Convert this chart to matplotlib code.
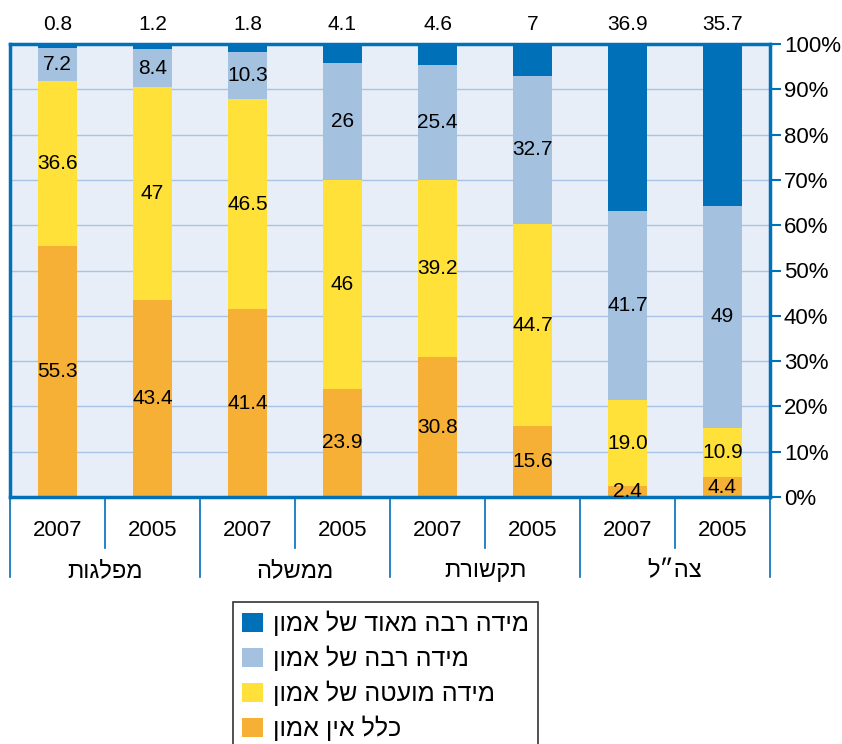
import numpy as np
import matplotlib.pyplot as plt
from matplotlib.transforms import blended_transform_factory

plt.rcParams['font.family'] = ['Liberation Sans', 'DejaVu Sans']


def heb(s):
    # matplotlib has no bidi support, so give it the visual order
    return s[::-1]


groups = ['מפלגות', 'ממשלה', 'תקשורת', 'צה״ל']
years = ['2007', '2005'] * 4

series_names = ['כלל אין אמון', 'מידה מועטה של אמון', 'מידה רבה של אמון', 'מידה רבה מאוד של אמון']
none_vals = [55.3, 43.4, 41.4, 23.9, 30.8, 15.6, 2.4, 4.4]
little_vals = [36.6, 47, 46.5, 46, 39.2, 44.7, 19.0, 10.9]
much_vals = [7.2, 8.4, 10.3, 26, 25.4, 32.7, 41.7, 49]
verymuch_vals = [0.8, 1.2, 1.8, 4.1, 4.6, 7, 36.9, 35.7]

none_txt = ['55.3', '43.4', '41.4', '23.9', '30.8', '15.6', '2.4', '4.4']
little_txt = ['36.6', '47', '46.5', '46', '39.2', '44.7', '19.0', '10.9']
much_txt = ['7.2', '8.4', '10.3', '26', '25.4', '32.7', '41.7', '49']
verymuch_txt = ['0.8', '1.2', '1.8', '4.1', '4.6', '7', '36.9', '35.7']

colors = ['#f6b036', '#ffe13a', '#a4c2e0', '#0070b8']
edge = '#0070b8'

fig = plt.figure(figsize=(8.42, 7.44), dpi=100)
ax = fig.add_axes([10 / 842, 1 - 497 / 744, 760 / 842, 453 / 744])
ax.set_facecolor('#e7eef7')

x = np.arange(len(years))
bottom = np.zeros(len(years))
handles = []
all_vals = [none_vals, little_vals, much_vals, verymuch_vals]
all_txt = [none_txt, little_txt, much_txt, None]
for vals, txt, c, name in zip(all_vals, all_txt, colors, series_names):
    bars = ax.bar(x, vals, 0.42, bottom=bottom, color=c, label=heb(name), zorder=2)
    if txt is not None:
        ax.bar_label(bars, labels=txt, label_type='center', fontsize=15)
    handles.append(bars)
    bottom += np.array(vals)

# values of the top segment above the plot
for xi, t in zip(x, verymuch_txt):
    ax.text(xi, 104.3, t, ha='center', va='center', fontsize=15, clip_on=False)

ax.set_xlim(-0.5, 7.5)
ax.set_ylim(0, 100)
ax.set_yticks(np.arange(0, 101, 10))
ax.set_yticklabels([f'{v}%' for v in range(0, 101, 10)])
ax.yaxis.tick_right()
ax.tick_params(axis='y', length=8, width=1.5, color=edge, labelsize=16, pad=2)
ax.set_xticks([])
ax.grid(axis='y', color='#a9c4e4', linewidth=1, zorder=0)
ax.set_axisbelow(True)
for sp in ax.spines.values():
    sp.set_color(edge)
    sp.set_linewidth(2.5)

# category table below the plot
tr = blended_transform_factory(ax.transData, ax.transAxes)
for b in [0.5, 2.5, 4.5, 6.5]:
    ax.plot([b, b], [0, -0.113], color=edge, lw=1.2, transform=tr, clip_on=False)
for b in [-0.5, 1.5, 3.5, 5.5, 7.5]:
    ax.plot([b, b], [0, -0.177], color=edge, lw=1.2, transform=tr, clip_on=False)
for xi, y in zip(x, years):
    ax.text(xi, -0.073, y, ha='center', va='center', fontsize=16, transform=tr)
for i, g in enumerate(groups):
    ax.text(2 * i + 0.5, -0.164, heb(g), ha='center', va='center', fontsize=17, transform=tr)

leg = fig.legend(handles[::-1], [heb(n) for n in series_names[::-1]],
                 loc='upper left', bbox_to_anchor=(233 / 842, 1 - 602 / 744),
                 fontsize=18, frameon=True, fancybox=False, edgecolor='black',
                 handlelength=0.85, handleheight=0.8, labelspacing=0.38,
                 borderpad=0.35, handletextpad=0.4, borderaxespad=0)
leg.get_frame().set_linewidth(1.2)

fig.savefig('out.png', dpi=100)
